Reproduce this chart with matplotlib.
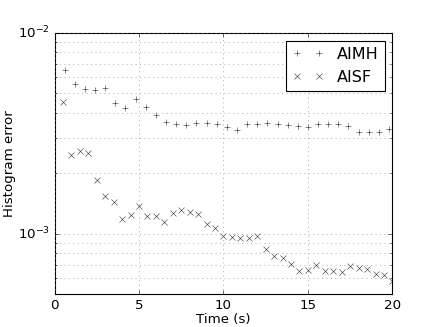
import numpy as np
import matplotlib
matplotlib.use("Agg")
import matplotlib.pyplot as plt

plt.style.use('classic')

# AIMH : pas de 0.6 s
t_aimh = [0.6, 1.2, 1.8, 2.4, 3.0, 3.6, 4.2, 4.8, 5.4, 6.0, 6.6,
          7.2, 7.8, 8.4, 9.0, 9.6, 10.2, 10.8, 11.4, 12.0, 12.6, 13.2,
          13.8, 14.4, 15.0, 15.6, 16.2, 16.8, 17.4, 18.0, 18.6, 19.2, 19.8]
err_aimh = [6.53e-3, 5.54e-3, 5.23e-3, 5.17e-3, 5.29e-3, 4.48e-3, 4.20e-3, 4.66e-3, 4.25e-3, 3.89e-3, 3.58e-3,
            3.50e-3, 3.47e-3, 3.56e-3, 3.56e-3, 3.50e-3, 3.39e-3, 3.28e-3, 3.50e-3, 3.50e-3, 3.56e-3, 3.50e-3,
            3.46e-3, 3.44e-3, 3.39e-3, 3.50e-3, 3.50e-3, 3.50e-3, 3.43e-3, 3.19e-3, 3.19e-3, 3.22e-3, 3.32e-3]

# AISF : pas de 0.5 s
t_aisf = [0.5, 1.0, 1.5, 2.0, 2.5, 3.0, 3.5, 4.0, 4.5, 5.0,
          5.5, 6.0, 6.5, 7.0, 7.5, 8.0, 8.5, 9.0, 9.5, 10.0,
          10.5, 11.0, 11.5, 12.0, 12.5, 13.0, 13.5, 14.0, 14.5, 15.0,
          15.5, 16.0, 16.5, 17.0, 17.5, 18.0, 18.5, 19.0, 19.5, 20.0]
err_aisf = [4.53e-3, 2.47e-3, 2.58e-3, 2.52e-3, 1.86e-3, 1.55e-3, 1.44e-3, 1.18e-3, 1.24e-3, 1.38e-3,
            1.22e-3, 1.23e-3, 1.14e-3, 1.27e-3, 1.32e-3, 1.29e-3, 1.25e-3, 1.12e-3, 1.07e-3, 9.80e-4,
            9.69e-4, 9.52e-4, 9.55e-4, 9.80e-4, 8.41e-4, 7.79e-4, 7.59e-4, 7.10e-4, 6.51e-4, 6.58e-4,
            6.97e-4, 6.55e-4, 6.51e-4, 6.46e-4, 6.89e-4, 6.73e-4, 6.66e-4, 6.31e-4, 6.21e-4, 5.84e-4]

fig = plt.figure(figsize=(5.45, 4.0875), dpi=80)
ax = fig.add_subplot(111)
ax.semilogy(t_aimh, err_aimh, '+', color='0.2', ms=5, label='AIMH')
ax.semilogy(t_aisf, err_aisf, 'x', color='0.2', ms=5, label='AISF')
ax.set_xlim(0, 20)
ax.set_ylim(5e-4, 1e-2)
ax.grid(True, which='both', color='0.5')
ax.set_xlabel('Time (s)', labelpad=1)
ax.set_ylabel('Histogram error', labelpad=2)
ax.legend(loc='upper right', bbox_to_anchor=(0.978, 0.97), borderaxespad=0)

plt.savefig('out.png', dpi=80)
